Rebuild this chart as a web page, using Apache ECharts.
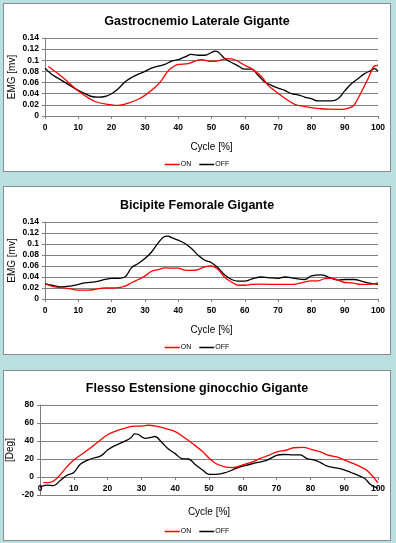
<!DOCTYPE html>
<html><head><meta charset="utf-8">
<script src="https://cdn.jsdelivr.net/npm/echarts@6/dist/echarts.min.js"></script>
<style>
html,body{margin:0;padding:0;background:#badfe0;width:396px;height:543px;overflow:hidden;}
.p{position:absolute;left:3px;width:388px;box-sizing:border-box;border:1px solid #8c8c8c;background:#fff;}
</style></head><body>
<div id="c1" class="p" style="top:3px;height:169px"></div>
<div id="c2" class="p" style="top:186px;height:169px"></div>
<div id="c3" class="p" style="top:370px;height:171px"></div>
<script>
// Panel titles and axes
const titles = ["Gastrocnemio Laterale Gigante", "Bicipite Femorale Gigante", "Flesso Estensione ginocchio Gigante"];
const yNames = ["EMG [mv]", "EMG [mv]", "[Deg]"];
const xName = "Cycle [%]";
const seriesNames = ["ON", "OFF"];

// Panel 1: Gastrocnemio Laterale
const gastroOnX  = [1,5,10,15,20,22,25,28,30,33,35,37,40,43,45,47,50,52,55,57,60,62,65,67,70,72,75,78,80,83,85,88,90,92,93,95,97,99,100];
const gastroOnY  = [0.089,0.071,0.045,0.026,0.020,0.019,0.023,0.030,0.037,0.051,0.064,0.081,0.0925,0.094,0.0985,0.101,0.098,0.099,0.103,0.101,0.091,0.085,0.071,0.055,0.041,0.032,0.021,0.017,0.015,0.013,0.0125,0.012,0.0125,0.016,0.021,0.043,0.067,0.090,0.091];
const gastroOffX = [0,2,5,8,10,12,14,16,18,20,22,24,26,28,30,32,34,36,38,40,42,44,46,48,50,51,52,54,56,58,60,62,64,66,68,70,72,74,76,78,80,82,84,86,88,90,92,94,96,98,99,100];
const gastroOffY = [0.086,0.075,0.064,0.053,0.046,0.040,0.035,0.034,0.035,0.040,0.049,0.061,0.069,0.075,0.080,0.086,0.0895,0.0925,0.0985,0.101,0.106,0.1105,0.109,0.109,0.114,0.1165,0.115,0.103,0.096,0.090,0.084,0.084,0.073,0.061,0.055,0.050,0.046,0.040,0.038,0.034,0.031,0.027,0.027,0.027,0.031,0.045,0.058,0.067,0.076,0.082,0.085,0.080];

// Panel 2: Bicipite Femorale
const bicOnX  = [0,2,5,8,10,13,15,18,20,22,24,26,28,30,32,34,36,38,40,42,44,46,48,50,52,54,56,58,60,62,65,70,74,77,80,82,84,86,88,90,92,95,97,100];
const bicOnY  = [0.028,0.0235,0.0205,0.018,0.016,0.016,0.0175,0.020,0.020,0.0205,0.0235,0.0295,0.0355,0.0415,0.0505,0.0535,0.0565,0.056,0.056,0.0525,0.052,0.0535,0.0585,0.060,0.0535,0.039,0.031,0.025,0.025,0.0265,0.027,0.0265,0.0265,0.0295,0.033,0.033,0.037,0.0375,0.0345,0.030,0.0295,0.0265,0.0265,0.0295];
const bicOffX = [0,2,5,8,10,12,15,18,20,22,24,26,28,30,32,34,36,37,38,40,42,44,46,48,50,52,54,56,58,60,62,65,67,70,72,75,78,80,83,85,88,90,93,95,97,100];
const bicOffY = [0.028,0.025,0.022,0.024,0.0265,0.0295,0.031,0.0355,0.0375,0.0375,0.040,0.057,0.0645,0.0735,0.0855,0.102,0.114,0.1145,0.1115,0.107,0.101,0.092,0.0795,0.0705,0.066,0.0565,0.0435,0.0355,0.0325,0.0325,0.036,0.040,0.039,0.0375,0.040,0.0375,0.0355,0.042,0.044,0.040,0.0345,0.0355,0.0355,0.0325,0.0295,0.0265];

// Panel 3: Flesso Estensione ginocchio
const kneeOnX  = [1,3,5,8,10,13,15,18,20,22,25,28,30,32,35,37,40,43,45,48,50,52,55,57,60,63,65,68,70,73,75,78,80,83,85,88,90,93,95,97,100];
const kneeOnY  = [-6.3,-6,-1.5,11.5,19,27,32.5,41.5,47,50.5,54,56.5,56.5,57.5,56,54,50.5,43,37.5,28.5,21,15,11,10.5,13.5,17,20.5,24.5,28,30,32.5,33,31,28,24.5,22,19,14.5,11,6.5,-6.5];
const kneeOffX = [0,2,4,6,8,10,12,15,18,20,22,25,27,28,29,31,33,34,36,38,40,42,44,46,48,50,52,55,58,60,63,67,70,72,75,77,79,81,83,85,87,90,92,94,96,98,100];
const kneeOffY = [-11,-9,-9.5,-4,2,5,14.5,20,23.5,30,34.5,39.5,44,48,47.5,43,44,45,38.5,31,26,20.5,20,13.5,8,3,3,5,9.5,12,15,18.5,24,25,24.5,24.5,20.5,19,16,12,10.5,8,5,2,-1.5,-9,-12.5];

const yMin = [0, 0, -20], yMax = [0.14, 0.14, 80], yInt = [0.02, 0.02, 20];

function pairs(xs, ys){ return xs.map((x,i)=>[x, ys[i]]); }
const FONT = '"Liberation Sans", Arial, sans-serif';
const panelData = [
  [pairs(gastroOnX, gastroOnY), pairs(gastroOffX, gastroOffY)],
  [pairs(bicOnX, bicOnY), pairs(bicOffX, bicOffY)],
  [pairs(kneeOnX, kneeOnY), pairs(kneeOffX, kneeOffY)]
];
const layout = [
  {titleTop: 6, grid:{left:41, top:34, width:333, height:78}, legendTop:152, xGap:26, yGap:28, xOffset:0},
  {titleTop: 7, grid:{left:41, top:35, width:333, height:77}, legendTop:152, xGap:26, yGap:28, xOffset:0},
  {titleTop: 6, grid:{left:36, top:34, width:338, height:90}, legendTop:152, xGap:30, yGap:25, xOffset:-18}
];
const colors = ["#ff0000", "#000000"];

["c1","c2","c3"].forEach((id, k) => {
  const ch = echarts.init(document.getElementById(id), null, {renderer:'canvas'});
  const L = layout[k];
  ch.setOption({
    animation: false,
    textStyle: {fontFamily: FONT},
    title: {text: titles[k], left: 'center', top: L.titleTop,
      textStyle: {fontFamily: FONT, fontSize: 12.5, fontWeight: 'bold', color: '#000'}},
    legend: {data: seriesNames, left: 'center', top: L.legendTop, icon: 'rect',
      itemWidth: 15, itemHeight: 1.5, itemGap: 8,
      textStyle: {fontFamily: FONT, fontSize: 7, color: '#000', padding:[0,0,0,-4]}},
    grid: Object.assign({containLabel: false, outerBoundsMode: 'none'}, L.grid),
    xAxis: {type: 'value', min: 0, max: 100, interval: 10, offset: L.xOffset,
      name: xName, nameLocation: 'middle', nameGap: L.xGap, nameMoveOverlap: false,
      nameTextStyle: {fontFamily: FONT, fontSize: 10, color: '#000'},
      axisLine: {onZero: false, lineStyle: {color: '#808080', width: 1}},
      axisTick: {show: true, length: 3, lineStyle: {color: '#808080'}},
      axisLabel: {fontFamily: FONT, fontSize: 8.5, fontWeight: 'bold', color: '#000', margin: 7},
      splitLine: {show: false}},
    yAxis: {type: 'value', min: yMin[k], max: yMax[k], interval: yInt[k],
      name: yNames[k], nameLocation: 'middle', nameGap: L.yGap, nameRotate: 90, nameMoveOverlap: false,
      nameTextStyle: {fontFamily: FONT, fontSize: 10, color: '#000'},
      axisLine: {show: true, lineStyle: {color: '#808080', width: 1}},
      axisTick: {show: true, length: 3, lineStyle: {color: '#808080'}},
      axisLabel: {fontFamily: FONT, fontSize: 8.5, fontWeight: 'bold', color: '#000', margin: 6},
      splitLine: {show: true, lineStyle: {color: '#808080', width: 1}}},
    series: seriesNames.map((n, s) => ({
      name: n, type: 'line', data: panelData[k][s], smooth: 0.4, showSymbol: false,
      symbol: 'none', color: colors[s],
      lineStyle: {color: colors[s], width: 1.3}, z: s === 0 ? 3 : 2
    }))
  });
});
</script>
</body></html>
